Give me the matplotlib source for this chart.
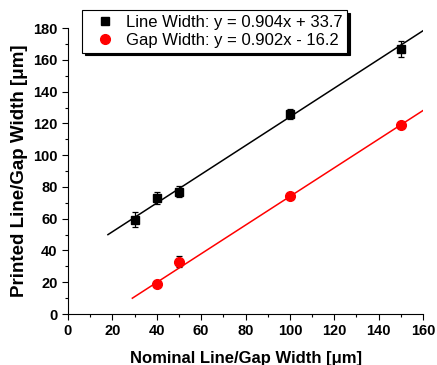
import numpy as np
import matplotlib.pyplot as plt
from matplotlib.ticker import MultipleLocator

plt.rcParams['font.family'] = ['Liberation Sans', 'DejaVu Sans']

# datos
x_linea = [30, 40, 50, 100, 150]
y_linea = [59.5, 73, 77, 126, 167]
err_linea = [4.5, 4, 3.5, 3, 5]

x_gap = [40, 50, 100, 150]
y_gap = [19, 33, 74, 119]
err_gap = [1.5, 3.5, 1.5, 1.5]

# ajustes lineales (de la leyenda)
m_linea, b_linea = 0.904, 33.7
m_gap, b_gap = 0.902, -16.2
rango_linea = [18, 160]
rango_gap = [29, 160]

fig = plt.figure(figsize=(4.37, 3.65), dpi=100)
ax = fig.add_axes([0.1556, 0.1397, 0.8124, 0.7833])

xl = np.array(rango_linea)
xg = np.array(rango_gap)
ax.plot(xl, m_linea * xl + b_linea, color='black', lw=1.1)
ax.plot(xg, m_gap * xg + b_gap, color='red', lw=1.1)

ax.errorbar(x_linea, y_linea, yerr=err_linea, fmt='s', color='black', ms=6,
            ecolor='black', elinewidth=0.9, capsize=2.5, capthick=0.9,
            label='Line Width: y = 0.904x + 33.7')
ax.errorbar(x_gap, y_gap, yerr=err_gap, fmt='o', color='red', ms=7,
            ecolor='black', elinewidth=0.9, capsize=2.5, capthick=0.9,
            label='Gap Width: y = 0.902x - 16.2')

ax.set_xlim(0, 160)
ax.set_ylim(0, 180)
ax.xaxis.set_major_locator(MultipleLocator(20))
ax.xaxis.set_minor_locator(MultipleLocator(10))
ax.yaxis.set_major_locator(MultipleLocator(20))
ax.yaxis.set_minor_locator(MultipleLocator(10))
ax.spines['top'].set_visible(False)
ax.spines['right'].set_visible(False)
ax.tick_params(which='major', direction='out', length=4, width=0.8, labelsize=10.5)
ax.tick_params(which='minor', direction='out', length=2.5, width=0.8)
for t in ax.get_xticklabels() + ax.get_yticklabels():
    t.set_fontweight('bold')

ax.set_xlabel('Nominal Line/Gap Width [\u03bcm]', fontsize=12, fontweight='bold', labelpad=9)
ax.set_ylabel('Printed Line/Gap Width [\u03bcm]', fontsize=13.5, fontweight='bold', labelpad=4)

handles, labels = ax.get_legend_handles_labels()
handles = [h[0] for h in handles]
leg = ax.legend(handles, labels, loc='upper left', bbox_to_anchor=(0.1876, 0.9726),
                bbox_transform=fig.transFigure, borderaxespad=0, fontsize=12,
                frameon=True, fancybox=False,
                shadow={'color': 'black', 'alpha': 1}, edgecolor='black',
                handlelength=2.2, handletextpad=0.15, borderpad=0.28, labelspacing=0.2)
leg.get_frame().set_linewidth(0.8)

plt.savefig('out.png', dpi=100)
plt.close()
